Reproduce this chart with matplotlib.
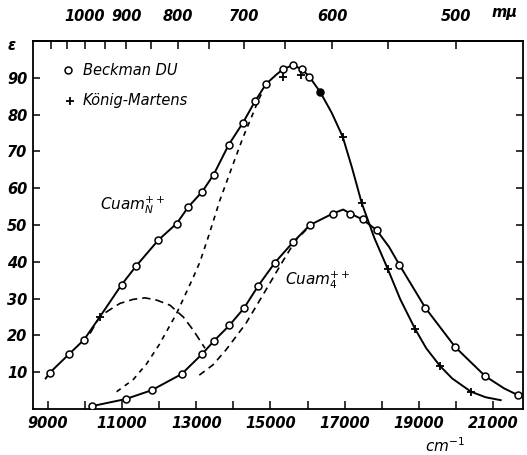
import matplotlib
matplotlib.use("Agg")
import matplotlib.pyplot as plt
import numpy as np

# ---------------- data ----------------
# Cuam_N band: solid curve
n_line_x = [8937, 9054, 9566, 9971, 10402, 10987, 11373, 11975, 12470, 12784, 13162,
            13468, 13873, 14258, 14582, 14879, 15150, 15346, 15599, 15842, 16047, 16343,
            16650, 16947, 17200, 17459, 17800, 18160, 18500, 18897, 19200, 19571, 19900,
            20407, 20800, 21208]
n_line_y = [8.3, 9.9, 14.9, 18.8, 25.1, 33.8, 38.8, 45.9, 50.4, 54.9, 59.1,
            63.7, 71.8, 77.8, 83.6, 88.3, 90.8, 92.4, 93.4, 92.4, 90.3, 86.1,
            80.5, 74.0, 65.5, 56.0, 46.5, 38.1, 29.8, 21.8, 16.5, 11.7, 8.3,
            4.7, 3.2, 2.4]
# Beckman DU points (Cuam_N)
n_beck_x = [9054, 9566, 9971, 10987, 11373, 11975, 12470, 12784, 13162, 13468, 13873,
            14258, 14582, 14879, 15346, 15599, 15842, 16047]
n_beck_y = [9.9, 14.9, 18.8, 33.8, 38.8, 45.9, 50.4, 54.9, 59.1, 63.7, 71.8,
            77.8, 83.6, 88.3, 92.4, 93.4, 92.4, 90.3]
# König-Martens points (Cuam_N)
n_km_x = [10402, 15346, 15823, 16947, 17459, 18160, 18897, 19571, 20407]
n_km_y = [25.1, 90.3, 90.7, 74.0, 55.9, 38.1, 21.8, 11.7, 4.7]
# coinciding point (filled)
both_x = [16343]
both_y = [86.1]

# Cuam_4 band: solid curve
q_line_x = [10195, 11095, 11796, 12605, 13162, 13485, 13889, 14285, 14671, 15121, 15615,
            16065, 16677, 16960, 17152, 17486, 17863, 18200, 18474, 19175, 19984, 20793,
            21300, 21666, 21800]
q_line_y = [0.8, 2.7, 5.1, 9.5, 15.0, 18.6, 22.7, 27.4, 33.5, 39.8, 45.4,
            50.0, 53.1, 54.2, 53.1, 51.5, 48.6, 44.0, 39.2, 27.5, 16.8, 8.9,
            5.6, 3.8, 3.3]
q_beck_x = [10195, 11095, 11796, 12605, 13162, 13485, 13889, 14285, 14671, 15121, 15615,
            16065, 16677, 17152, 17486, 17863, 18474, 19175, 19984, 20793, 21666]
q_beck_y = [0.8, 2.7, 5.1, 9.5, 15.0, 18.6, 22.7, 27.4, 33.5, 39.8, 45.4,
            50.0, 53.1, 53.1, 51.5, 48.6, 39.2, 27.5, 16.8, 8.9, 3.8]

# Gaussian components (dashed)
hump_x = [10133, 10402, 10672, 10942, 11300, 11616, 11931, 12290, 12649, 12919, 13234]
hump_y = [20.5, 25.2, 27.0, 28.7, 29.8, 30.2, 29.6, 28.2, 25.0, 21.4, 16.5]
nband_x = [10852, 11300, 11661, 12000, 12470, 12919, 13099, 13324, 13638, 13997, 14267,
           14492, 14672, 14800]
nband_y = [4.7, 8.0, 12.3, 17.5, 26.0, 35.8, 40.0, 46.8, 56.8, 66.7, 74.0,
           79.4, 83.9, 86.5]
qband_x = [13080, 13450, 13795, 14334, 14873, 15322, 15682, 15951, 16087]
qband_y = [9.2, 12.0, 16.0, 23.2, 32.3, 40.0, 45.9, 48.6, 50.2]

x_ticks = [9000, 11000, 13000, 15000, 17000, 19000, 21000]
x_minor = [10000, 12000, 14000, 16000, 18000, 20000]
y_ticks = [10, 20, 30, 40, 50, 60, 70, 80, 90]
wl_ticks = [1000, 900, 800, 700, 600, 500]
wl_minor = [1100, 1050, 950, 850, 750, 650, 550]

# ---------------- figure ----------------
fig = plt.figure(figsize=(5.27, 4.55), dpi=100)
ax = fig.add_axes([33 / 527, 1 - 409 / 455, 490 / 527, 368 / 455])
ax.set_xlim(8596, 21809)
ax.set_ylim(0, 100)

tfont = dict(family="DejaVu Sans", style="italic", weight="bold", size=10.5)

lw = 1.4
ax.plot(n_line_x, n_line_y, color="black", lw=lw, zorder=3)
ax.plot(q_line_x, q_line_y, color="black", lw=lw, zorder=3)
ax.plot(hump_x, hump_y, color="black", lw=1.2, dashes=(5, 3), zorder=2)
ax.plot(nband_x, nband_y, color="black", lw=1.2, dashes=(3, 3), zorder=2)
ax.plot(qband_x, qband_y, color="black", lw=1.2, dashes=(4, 3), zorder=2)

mk = dict(linestyle="none", markersize=5, markeredgewidth=1.1, zorder=4)
ax.plot(n_beck_x, n_beck_y, marker="o", mfc="white", mec="black", **mk)
ax.plot(q_beck_x, q_beck_y, marker="o", mfc="white", mec="black", **mk)
ax.plot(n_km_x, n_km_y, marker="+", color="black", markersize=6, markeredgewidth=1.3,
        linestyle="none", zorder=5)
ax.plot(both_x, both_y, marker="o", mfc="black", mec="black", **mk)

# legend (hand placed like original)
ax.plot([9539], [92.1], marker="o", mfc="white", mec="black", **mk)
ax.text(9944, 92.1, "Beckman DU", ha="left", va="center",
        family="DejaVu Sans", style="italic", size=10.5)
ax.plot([9593], [83.7], marker="+", color="black", markersize=6, markeredgewidth=1.3,
        linestyle="none")
ax.text(9944, 83.7, "König-Martens", ha="left", va="center",
        family="DejaVu Sans", style="italic", size=10.5)

ax.text(10402, 55.5, r"Cuam$_{N}^{++}$", ha="left", va="center",
        family="DejaVu Sans", style="italic", size=11)
ax.text(15391, 35.0, r"Cuam$_{4}^{++}$", ha="left", va="center",
        family="DejaVu Sans", style="italic", size=11)

# axes styling
for s in ax.spines.values():
    s.set_linewidth(1.3)
ax.set_xticks(x_ticks)
ax.set_xticks(x_minor, minor=True)
ax.set_xticklabels([str(v) for v in x_ticks], fontdict=tfont)
ax.set_yticks(y_ticks)
ax.set_yticklabels([str(v) for v in y_ticks], fontdict=tfont)
ax.tick_params(axis="x", which="both", direction="in", length=6, width=1.1, top=False, pad=5)
ax.tick_params(axis="y", which="both", direction="in", length=5, width=1.1, right=True, pad=4)

inv = lambda v: 1e7 / np.asarray(v, dtype=float)
sec = ax.secondary_xaxis("top", functions=(inv, inv))
sec.set_xticks(wl_ticks)
sec.set_xticks(wl_minor, minor=True)
sec.set_xticklabels([str(v) for v in wl_ticks], fontdict=tfont)
sec.tick_params(axis="x", which="both", direction="in", length=6, width=1.1, pad=12)
sec.spines["top"].set_linewidth(1.3)

fig.text(12 / 527, 1 - 45 / 455, "ε", ha="center", va="center", **tfont)
fig.text(505 / 527, 1 - 13 / 455, "mμ", ha="center", va="center", **tfont)
fig.text(445 / 527, 1 - 446 / 455, r"cm$^{-1}$", ha="center", va="center",
         family="DejaVu Sans", style="italic", size=11)

fig.savefig("out.png", dpi=100)
